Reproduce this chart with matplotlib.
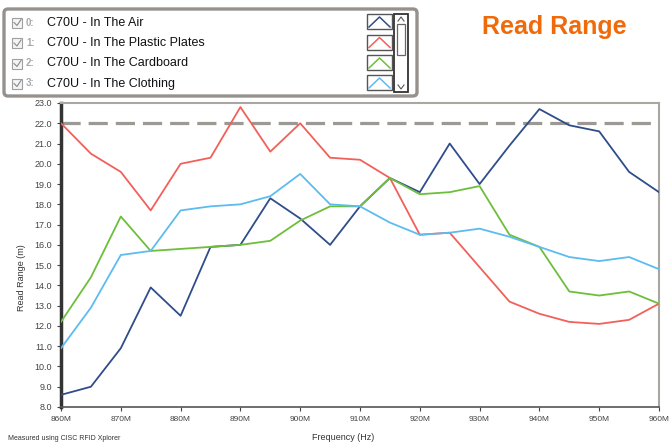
import numpy as np
import matplotlib.pyplot as plt
import matplotlib.patches as mpatches

# Frequencies in MHz, one reading every 5 MHz
freq = list(range(860, 961, 5))

air = [8.6, 9.0, 10.9, 13.9, 12.5, 15.9, 16.0, 18.3, 17.3, 16.0, 17.9,
       19.3, 18.6, 21.0, 19.0, 20.9, 22.7, 21.9, 21.6, 19.6, 18.6]
plastic = [22.0, 20.5, 19.6, 17.7, 20.0, 20.3, 22.8, 20.6, 22.0, 20.3, 20.2,
           19.3, 16.5, 16.6, 14.9, 13.2, 12.6, 12.2, 12.1, 12.3, 13.1]
cardboard = [12.2, 14.4, 17.4, 15.7, 15.8, 15.9, 16.0, 16.2, 17.2, 17.9, 17.9,
             19.3, 18.5, 18.6, 18.9, 16.5, 15.9, 13.7, 13.5, 13.7, 13.1]
clothing = [10.9, 12.9, 15.5, 15.7, 17.7, 17.9, 18.0, 18.4, 19.5, 18.0, 17.9,
            17.1, 16.5, 16.6, 16.8, 16.4, 15.9, 15.4, 15.2, 15.4, 14.8]

series_names = ["C70U - In The Air", "C70U - In The Plastic Plates",
                "C70U - In The Cardboard", "C70U - In The Clothing"]
series_colors = ["#2f4d8a", "#f2605a", "#6dbf3b", "#5cbcf0"]
limit_level = 22.0

y_ticks = np.arange(8.0, 23.01, 1.0)
x_ticks = list(range(860, 961, 10))

W, H = 671, 446
fig = plt.figure(figsize=(W / 100, H / 100), dpi=100)
plt.rcParams["font.family"] = ["Liberation Sans", "DejaVu Sans"]

ax = fig.add_axes([61 / W, 1 - 407 / H, (659 - 61) / W, (407 - 103) / H])
for vals, col in zip([air, plastic, cardboard, clothing], series_colors):
    ax.plot(freq, vals, color=col, linewidth=1.3, zorder=3)
ax.axhline(limit_level, color="#9c9893", linewidth=2.3, dashes=(6, 2.5), zorder=2)

ax.set_xlim(860, 960)
ax.set_ylim(8, 23)
ax.set_yticks(y_ticks)
ax.set_yticklabels([f"{v:.1f}" for v in y_ticks])
ax.set_xticks(x_ticks)
ax.set_xticklabels([f"{v}M" for v in x_ticks])
ax.tick_params(labelsize=6, colors="#444444", length=3, width=0.8)
ax.tick_params(axis="y", labelsize=6.5)
for s in ["top", "right"]:
    ax.spines[s].set_color("#aaa6a2")
    ax.spines[s].set_linewidth(1.5)
ax.spines["left"].set_color("#333333")
ax.spines["left"].set_linewidth(2.5)
ax.spines["bottom"].set_color("#555555")
ax.spines["bottom"].set_linewidth(1.2)

fig.text(22 / W, 1 - 278 / H, "Read Range (m)", rotation=90, ha="center",
         va="center", fontsize=6.5, color="#333333")
fig.text(343 / W, 1 - 437 / H, "Frequency (Hz)", ha="center", va="center",
         fontsize=6.5, color="#333333")
fig.text(8 / W, 1 - 438 / H, "Measured using CISC RFID Xplorer", ha="left",
         va="center", fontsize=5, color="#333333")
fig.text(554 / W, 1 - 27 / H, "Read Range", ha="center", va="center",
         fontsize=18, fontweight="bold", color="#f06a0a")

# Legend panel drawn in pixel coordinates on an overlay
ov = fig.add_axes([0, 0, 1, 1], zorder=5)
ov.set_xlim(0, W)
ov.set_ylim(H, 0)
ov.axis("off")
ov.add_patch(mpatches.FancyBboxPatch((4, 9), 413, 87, boxstyle="round,pad=0,rounding_size=4",
                                     facecolor="white", edgecolor="#96918c", linewidth=2.4))
row_y = [22.5, 43, 63.5, 83.5]
for i, (name, col, ry) in enumerate(zip(series_names, series_colors, row_y)):
    ov.add_patch(mpatches.Rectangle((12, ry - 5), 10, 10, facecolor="#f4f4f4",
                                    edgecolor="#a0a0a0", linewidth=0.8))
    ov.plot([14, 17, 21], [ry, ry + 3, ry - 3], color="#8a8a8a", linewidth=0.8)
    ov.text(26, ry, f"{i}:", ha="left", va="center", fontsize=7, color="#a8a8a8",
            fontweight="bold")
    ov.text(47, ry, name, ha="left", va="center", fontsize=9, color="#111111")
    top = ry - 8.5
    ov.add_patch(mpatches.Rectangle((367, top), 25, 15, facecolor="white",
                                    edgecolor="#555555", linewidth=1.0))
    ov.plot([369, 379.5, 390], [top + 13, top + 3, top + 13], color=col, linewidth=1.1)

# scrollbar
ov.add_patch(mpatches.Rectangle((394, 14), 14, 78, facecolor="white",
                                edgecolor="#333333", linewidth=1.3))
ov.add_patch(mpatches.Rectangle((397, 24), 8, 31, facecolor="white",
                                edgecolor="#666666", linewidth=0.9))
ov.plot([398, 401, 404], [21, 17, 21], color="#555555", linewidth=0.8)
ov.plot([398, 401, 404], [85, 89, 85], color="#555555", linewidth=0.8)

fig.savefig("out.png", dpi=100)
